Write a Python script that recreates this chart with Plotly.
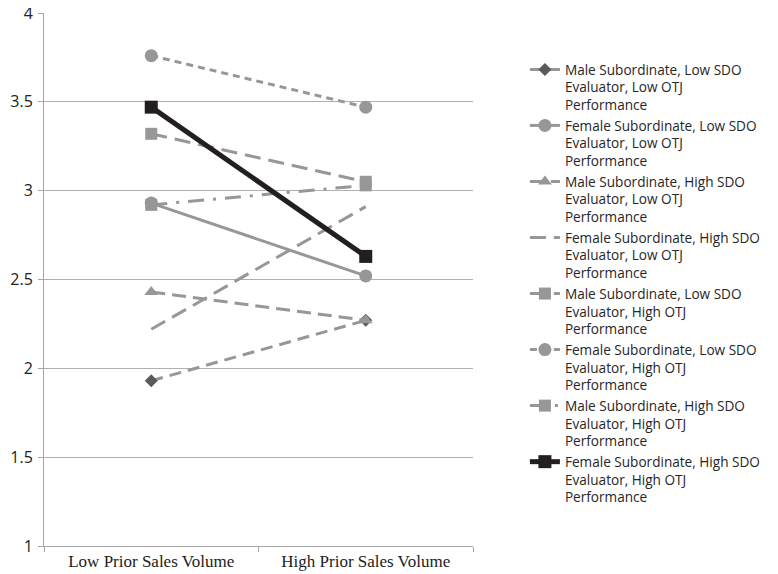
import plotly.graph_objects as go

categories = ["Low Prior Sales Volume", "High Prior Sales Volume"]

series_names = [
    "Male Subordinate, Low SDO<br>Evaluator, Low OTJ<br>Performance",
    "Female Subordinate, Low SDO<br>Evaluator, Low OTJ<br>Performance",
    "Male Subordinate, High SDO<br>Evaluator, Low OTJ<br>Performance",
    "Female Subordinate, High SDO<br>Evaluator, Low OTJ<br>Performance",
    "Male Subordinate, Low SDO<br>Evaluator, High OTJ<br>Performance",
    "Female Subordinate, Low SDO<br>Evaluator, High OTJ<br>Performance",
    "Male Subordinate, High SDO<br>Evaluator, High OTJ<br>Performance",
    "Female Subordinate, High SDO<br>Evaluator, High OTJ<br>Performance",
]

male_low_sdo_low_otj = [1.93, 2.27]
female_low_sdo_low_otj = [2.93, 2.52]
male_high_sdo_low_otj = [2.43, 2.27]
female_high_sdo_low_otj = [2.22, 2.91]
male_low_sdo_high_otj = [3.32, 3.05]
female_low_sdo_high_otj = [3.76, 3.47]
male_high_sdo_high_otj = [2.92, 3.03]
female_high_sdo_high_otj = [3.47, 2.63]

values = [
    male_low_sdo_low_otj, female_low_sdo_low_otj, male_high_sdo_low_otj,
    female_high_sdo_low_otj, male_low_sdo_high_otj, female_low_sdo_high_otj,
    male_high_sdo_high_otj, female_high_sdo_high_otj,
]

GREY = "#979797"
styles = [
    dict(line=dict(color=GREY, width=3, dash="12px,7px"), marker=dict(symbol="diamond", size=10, color="#5a5a5a"), mode="lines+markers"),
    dict(line=dict(color=GREY, width=3, dash="solid"), marker=dict(symbol="circle", size=13, color=GREY), mode="lines+markers"),
    dict(line=dict(color=GREY, width=3, dash="14px,7px"), marker=dict(symbol="triangle-up", size=12, color=GREY), mode="lines+markers"),
    dict(line=dict(color=GREY, width=3, dash="16px,8px"), marker=dict(size=1, color=GREY), mode="lines"),
    dict(line=dict(color=GREY, width=3, dash="16px,8px"), marker=dict(symbol="square", size=12, color=GREY), mode="lines+markers"),
    dict(line=dict(color=GREY, width=3, dash="7px,5px"), marker=dict(symbol="circle", size=13, color=GREY), mode="lines+markers"),
    dict(line=dict(color=GREY, width=3, dash="16px,9px,3px,9px"), marker=dict(symbol="square", size=12, color=GREY), mode="lines+markers"),
    dict(line=dict(color="#231f20", width=5, dash="solid"), marker=dict(symbol="square", size=13, color="#231f20"), mode="lines+markers"),
]

fig = go.Figure()
for name, vals, st in zip(series_names, values, styles):
    fig.add_trace(go.Scatter(x=categories, y=vals, name=name, **st))

fig.update_layout(
    width=778, height=574,
    margin=dict(l=36, r=313, t=5, b=36, autoexpand=False),
    paper_bgcolor="white", plot_bgcolor="white",
    showlegend=True,
    legend=dict(
        x=1.121, y=0.923, xanchor="left", yanchor="top",
        font=dict(family="Open Sans, Noto Sans, sans-serif", size=13.6, color="#262626"),
        valign="top", itemwidth=30, tracegroupgap=0,
    ),
    xaxis=dict(
        type="category", range=[-0.5, 1.5], automargin=False,
        showline=True, linecolor="#a6a6a6", linewidth=1,
        ticks="outside", ticklen=5, tickcolor="#a6a6a6", tickson="boundaries",
        showgrid=False,
        tickfont=dict(family="Liberation Serif, Times New Roman, serif", size=17, color="#222222"),
    ),
    yaxis=dict(
        range=[1, 4], dtick=0.5, tick0=1, automargin=False,
        showline=True, linecolor="#a6a6a6", linewidth=1,
        ticks="outside", ticklen=5, tickcolor="#a6a6a6",
        showgrid=True, gridcolor="#b0b0b0", gridwidth=1,
        zeroline=False, ticklabeloverflow="allow",
        tickfont=dict(family="Open Sans, Noto Sans, sans-serif", size=16, color="#222222"),
        ticklabelstandoff=2,
    ),
)

fig.write_html("out.html")
